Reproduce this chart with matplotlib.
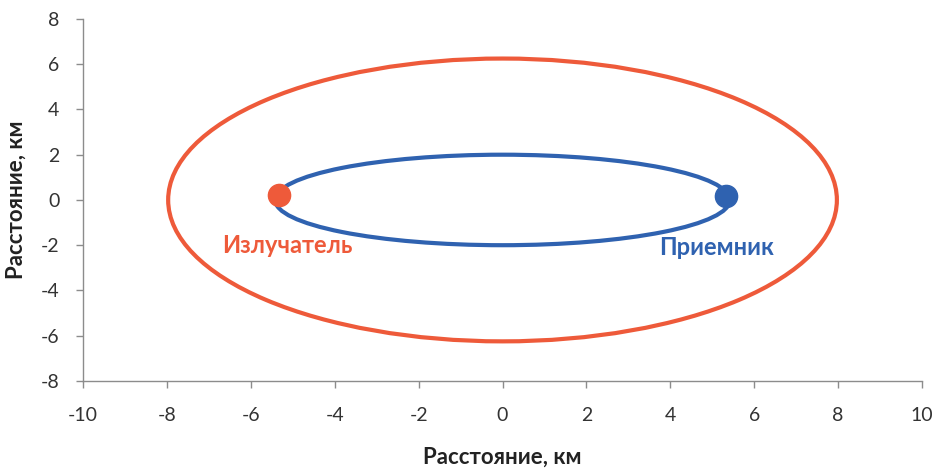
import matplotlib.pyplot as plt
from matplotlib.patches import Ellipse

# ellipse parameters: centre x, centre y, semi-axis along x, semi-axis along y
outer_ellipse = [0.0, 0.0, 7.97, 6.25]
inner_ellipse = [0.0, 0.0, 5.42, 2.0]

# emitter / receiver positions
emitter_xy = [-5.33, 0.2]
receiver_xy = [5.33, 0.18]

x_ticks = [-10, -8, -6, -4, -2, 0, 2, 4, 6, 8, 10]
y_ticks = [-8, -6, -4, -2, 0, 2, 4, 6, 8]

red = '#EE5A3A'
blue = '#2F62B0'
grey = '#8C8C8C'

plt.rcParams['font.family'] = ['Lato', 'DejaVu Sans']
plt.rcParams['axes.unicode_minus'] = False

fig = plt.figure(figsize=(9.4, 4.68), dpi=100)
ax = fig.add_axes([0.0883, 0.186, 0.8926, 0.7735])

ax.add_patch(Ellipse((outer_ellipse[0], outer_ellipse[1]), 2 * outer_ellipse[2], 2 * outer_ellipse[3],
                     fill=False, edgecolor=red, linewidth=3.0))
ax.add_patch(Ellipse((inner_ellipse[0], inner_ellipse[1]), 2 * inner_ellipse[2], 2 * inner_ellipse[3],
                     fill=False, edgecolor=blue, linewidth=3.0))

ax.plot(emitter_xy[0], emitter_xy[1], 'o', color=red, markersize=16, zorder=5)
ax.plot(receiver_xy[0], receiver_xy[1], 'o', color=blue, markersize=16, zorder=5)

ax.text(-5.14, -2.0, 'Излучатель', color=red, fontsize=17, fontweight='bold', ha='center', va='center')
ax.text(5.11, -2.1, 'Приемник', color=blue, fontsize=17, fontweight='bold', ha='center', va='center')

ax.set_xlim(-10, 10)
ax.set_ylim(-8, 8)
ax.set_xticks(x_ticks)
ax.set_yticks(y_ticks)
ax.tick_params(colors=grey, labelcolor='#333333', labelsize=14, length=5, width=1)
ax.tick_params(axis='x', pad=14)
ax.tick_params(axis='y', pad=12)

for side in ['top', 'right']:
    ax.spines[side].set_visible(False)
for side in ['left', 'bottom']:
    ax.spines[side].set_color(grey)
    ax.spines[side].set_linewidth(1)

ax.set_xlabel('Расстояние, км', fontsize=16, fontweight='bold', color='#222222', labelpad=16)
ax.set_ylabel('Расстояние, км', fontsize=16, fontweight='bold', color='#222222', labelpad=10)

fig.savefig('out.png', dpi=100)
